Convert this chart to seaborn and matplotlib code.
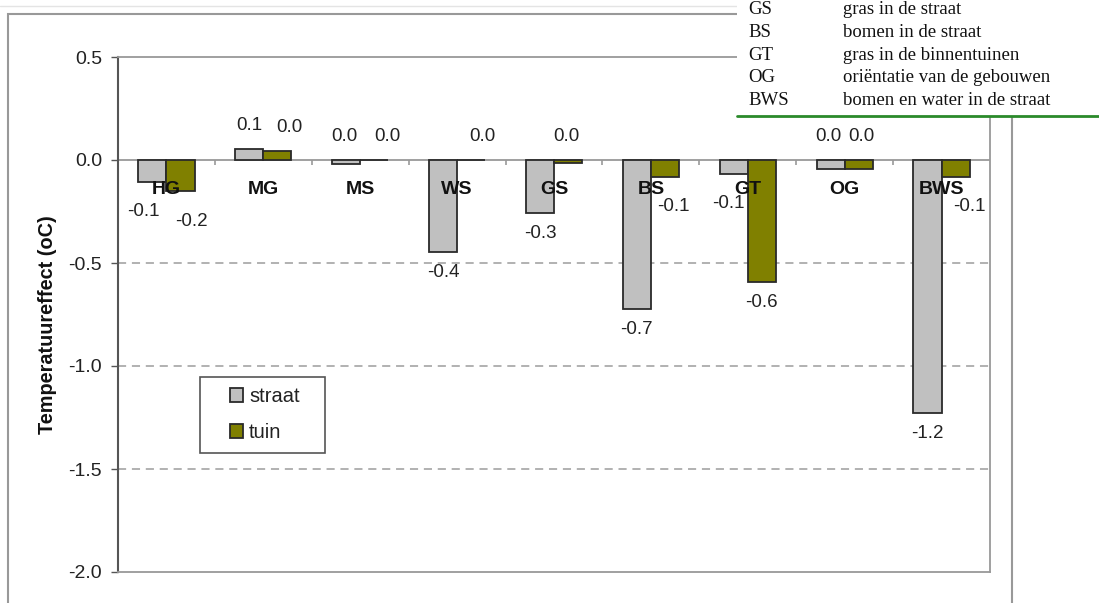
import pandas as pd
import matplotlib.pyplot as plt
import seaborn as sns
from matplotlib.patches import Rectangle
from matplotlib.lines import Line2D

# data
categories = ['HG', 'MG', 'MS', 'WS', 'GS', 'BS', 'GT', 'OG', 'BWS']
straat = [-0.105, 0.052, -0.021, -0.448, -0.259, -0.725, -0.067, -0.042, -1.227]
tuin = [-0.152, 0.045, 0.0, 0.0, -0.013, -0.083, -0.593, -0.042, -0.083]
series = ['straat', 'tuin']

abbrevs = ['GS', 'BS', 'GT', 'OG', 'BWS']
descriptions = ['gras in de straat', 'bomen in de straat', 'gras in de binnentuinen',
                'oriëntatie van de gebouwen', 'bomen en water in de straat']

# horizontal nudges (px) of the value labels, like Excel spreads them
nudge_straat = [-9, 0, -2, 0, 0, 0, -5, -2, 0]
nudge_tuin = [11, 12, 13, 11, -2, 8, 0, 3, 14]

df = pd.DataFrame({
    'cat': categories * 2,
    'val': straat + tuin,
    'serie': ['straat'] * len(categories) + ['tuin'] * len(categories),
})

sns.set_style('white')
plt.rcParams['font.family'] = ['Liberation Sans', 'DejaVu Sans']

W, H = 1099, 603
L, R, T, B = 118, 990, 57, 572
fig = plt.figure(figsize=(W / 100, H / 100), dpi=100)
ax = fig.add_axes([L / W, 1 - B / H, (R - L) / W, (B - T) / H])
cat_px = (R - L) / len(categories)

sns.barplot(data=df, x='cat', y='val', hue='serie', order=categories,
            palette={'straat': '#c0c0c0', 'tuin': '#808000'}, saturation=1,
            width=0.58, edgecolor='#2a2a2a', linewidth=1.3, ax=ax, zorder=3)

ax.set_xlim(-0.5, len(categories) - 0.5)
ax.set_ylim(-2.0, 0.5)
yt = [0.5, 0.0, -0.5, -1.0, -1.5, -2.0]
ax.set_yticks(yt)
ax.set_yticklabels([f'{t:.1f}' for t in yt])
ax.tick_params(axis='y', labelsize=14, labelcolor='#222222', length=5,
               width=1, color='#555555', direction='out', pad=6.5, left=True)
ax.set_xticks([])
ax.set_xlabel('')
ax.set_ylabel('')

# gridlines and zero axis
for g in [-0.5, -1.0, -1.5]:
    ax.axhline(g, color='#ababab', lw=1.3, ls=(0, (4.5, 3.2)), zorder=1)
ax.axhline(0, color='#999999', lw=1.3, zorder=2)
ax.vlines([i + 0.5 for i in range(len(categories) - 1)], -0.025, 0,
          color='#999999', lw=1.2, zorder=2)

for side in ['top', 'right', 'bottom']:
    ax.spines[side].set_color('#999999')
    ax.spines[side].set_linewidth(1.3)
ax.spines['left'].set_color('#555555')
ax.spines['left'].set_linewidth(1.5)

# category names inside the plot
for i, c in enumerate(categories):
    ax.text(i, -0.143, c, ha='center', va='center', fontsize=14,
            fontweight='bold', color='#111111', zorder=5)

# value labels
for cont, vals, nudges in zip(ax.containers, [straat, tuin], [nudge_straat, nudge_tuin]):
    for bar, v, dx in zip(cont, vals, nudges):
        s = f'{v:.1f}'
        if s == '-0.0':
            s = '0.0'
        if s == '0.0' or v > 0:
            y = max(v, 0) + 0.115
        elif v < -0.2:
            y = v - 0.1
        else:
            y = v - 0.145
        x = bar.get_x() + bar.get_width() / 2 + dx / cat_px
        ax.text(x, y, s, ha='center', va='center', fontsize=13.5,
                color='#222222', zorder=5)

leg = ax.legend(loc='center left', bbox_to_anchor=(230 / W, 1 - 414.5 / H),
                bbox_transform=fig.transFigure, fontsize=14.5, frameon=False,
                handlelength=0.65, handleheight=0.65, handletextpad=0.3,
                labelspacing=0.85, borderpad=0, borderaxespad=0)
for t in leg.get_texts():
    t.set_color('#222222')
fig.add_artist(Rectangle((200 / W, 1 - 453 / H), 125 / W, 76 / H, fill=False,
                         edgecolor='#555555', lw=1.2, transform=fig.transFigure,
                         zorder=2))

fig.text(48 / W, 1 - 325 / H, 'Temperatuureffect (oC)', rotation=90,
         ha='center', va='center', fontsize=14.3, fontweight='bold', color='#111111')

# outer chart border
fig.add_artist(Rectangle((8 / W, -0.1), (1012 - 8) / W, 1 - 14 / H + 0.1,
                         fill=False, edgecolor='#999999', lw=1.5,
                         transform=fig.transFigure, zorder=1))
fig.add_artist(Line2D([0, 1], [1 - 6 / H, 1 - 6 / H], color='#e4e4e4', lw=1,
                      transform=fig.transFigure, zorder=1))

# abbreviation table top right
fig.add_artist(Rectangle((737 / W, 1 - 116 / H), 1, 116 / H, facecolor='white',
                         edgecolor='none', transform=fig.transFigure, zorder=10))
fig.add_artist(Line2D([737 / W, 1], [1 - 116 / H, 1 - 116 / H], color='#2a8a2a',
                      lw=2, transform=fig.transFigure, zorder=11))
for k, (a, d) in enumerate(zip(abbrevs, descriptions)):
    y = 1 - (10 + k * 22.6) / H
    fig.text(748 / W, y, a, ha='left', va='center', fontsize=13.5,
             family=['Liberation Serif', 'DejaVu Serif'], color='#111111', zorder=12)
    fig.text(843 / W, y, d, ha='left', va='center', fontsize=13.5,
             family=['Liberation Serif', 'DejaVu Serif'], color='#111111', zorder=12)

fig.savefig('out.png', dpi=100)
